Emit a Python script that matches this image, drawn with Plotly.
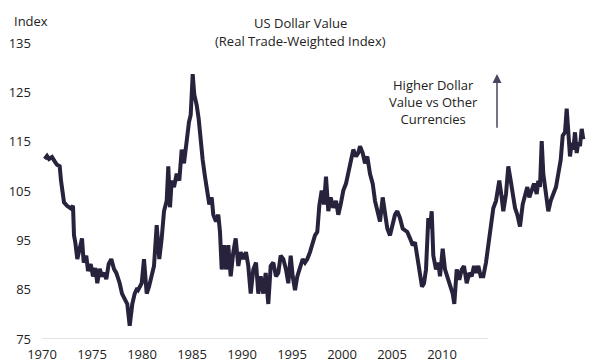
import plotly.graph_objects as go

# ---- data ----
years = [
    1970.27, 1970.5, 1970.7, 1971.0, 1971.27, 1971.5, 1971.77, 1971.9, 1972.2, 1972.5,
    1972.87, 1973.1, 1973.2, 1973.33, 1973.53, 1973.77, 1974.0, 1974.17, 1974.43, 1974.6,
    1974.87, 1975.1, 1975.33, 1975.53, 1975.77, 1976.0, 1976.27, 1976.43, 1976.67, 1976.93,
    1977.2, 1977.43, 1977.77, 1978.0, 1978.27, 1978.53, 1978.77, 1979.03, 1979.27, 1979.53,
    1979.63, 1979.97, 1980.2, 1980.47, 1980.7, 1980.97, 1981.2, 1981.47, 1981.73, 1981.97,
    1982.2, 1982.47, 1982.63, 1982.8, 1982.97, 1983.2, 1983.47, 1983.73, 1983.97, 1984.2,
    1984.47, 1984.7, 1984.87, 1985.07, 1985.23, 1985.47, 1985.67, 1985.87, 1986.07, 1986.3,
    1986.53, 1986.73, 1986.97, 1987.13, 1987.4, 1987.63, 1987.8, 1987.97, 1988.2, 1988.4,
    1988.63, 1988.87, 1989.13, 1989.37, 1989.63, 1989.87, 1990.13, 1990.4, 1990.63, 1990.87,
    1991.13, 1991.4, 1991.63, 1991.87, 1992.13, 1992.37, 1992.63, 1992.87, 1993.13, 1993.4,
    1993.63, 1993.87, 1994.13, 1994.4, 1994.63, 1994.87, 1995.07, 1995.3, 1995.53, 1995.8,
    1996.07, 1996.3, 1996.53, 1996.8, 1997.07, 1997.3, 1997.53, 1997.73, 1997.97, 1998.2,
    1998.4, 1998.63, 1998.87, 1999.13, 1999.4, 1999.63, 1999.87, 2000.13, 2000.4, 2000.63,
    2000.87, 2001.13, 2001.4, 2001.63, 2001.8, 2002.07, 2002.3, 2002.53, 2002.8, 2003.07,
    2003.3, 2003.53, 2003.8, 2004.07, 2004.3, 2004.53, 2004.8, 2005.07, 2005.3, 2005.53,
    2005.8, 2006.07, 2006.3, 2006.53, 2006.8, 2007.07, 2007.3, 2007.53, 2007.8, 2008.0,
    2008.2, 2008.4, 2008.63, 2008.8, 2008.97, 2009.13, 2009.4, 2009.63, 2009.8, 2010.07,
    2010.3, 2010.53, 2010.8, 2011.07, 2011.23, 2011.47, 2011.73, 2011.97, 2012.2, 2012.47,
    2012.73, 2012.97, 2013.2, 2013.4, 2013.63, 2013.87, 2014.13, 2014.4, 2014.63, 2014.87,
    2015.13, 2015.4, 2015.63, 2015.73, 2015.97, 2016.13, 2016.4, 2016.63, 2016.87, 2017.07,
    2017.3, 2017.53, 2017.8, 2018.07, 2018.3, 2018.53, 2018.73, 2018.97, 2019.2, 2019.47,
    2019.63, 2019.8, 2019.97, 2020.13, 2020.37, 2020.63, 2020.87, 2021.13, 2021.4, 2021.63,
    2021.87, 2022.07, 2022.3, 2022.47, 2022.63, 2022.8, 2022.97, 2023.13, 2023.3, 2023.47,
    2023.63, 2023.8, 2023.97, 2024.13,
]
index_values = [
    111.5, 112.1, 111.5, 111.9, 111.0, 110.3, 110.0, 107.1, 102.7, 102.0,
    101.5, 102.0, 96.0, 94.6, 91.2, 93.3, 95.4, 90.5, 91.9, 88.8,
    90.2, 87.7, 89.4, 86.3, 89.2, 87.7, 88.4, 87.1, 90.2, 91.2,
    89.2, 88.4, 86.3, 84.2, 82.9, 82.1, 77.7, 82.1, 84.2, 85.3,
    85.0, 86.3, 91.2, 84.2, 85.6, 87.7, 89.8, 98.1, 91.2, 95.4,
    100.9, 103.0, 110.0, 101.7, 107.1, 105.8, 108.5, 107.1, 113.4, 110.6,
    115.5, 119.0, 120.4, 128.7, 124.5, 122.4, 119.6, 114.8, 111.3, 107.9,
    104.4, 102.3, 103.7, 100.2, 98.8, 100.2, 96.7, 89.1, 94.0, 89.1,
    94.0, 87.7, 92.6, 95.4, 89.8, 92.6, 91.2, 92.6, 89.8, 84.2,
    89.1, 90.5, 84.2, 87.7, 84.2, 88.4, 82.1, 89.8, 90.5, 87.7,
    88.4, 91.9, 91.2, 89.1, 86.3, 91.9, 87.7, 84.9, 87.7, 89.8,
    91.2, 90.5, 91.2, 92.6, 94.6, 96.0, 96.7, 102.0, 105.1, 102.3,
    107.9, 100.9, 103.7, 101.6, 103.0, 100.2, 102.3, 105.1, 106.5, 108.5,
    110.6, 113.4, 112.0, 112.7, 114.1, 112.7, 110.6, 112.0, 108.5, 106.5,
    103.0, 100.9, 98.8, 103.7, 100.2, 97.4, 96.0, 98.8, 100.2, 100.9,
    99.5, 97.4, 97.0, 96.7, 95.4, 94.0, 94.6, 91.9, 89.1, 85.6,
    86.3, 89.1, 99.5, 97.4, 100.9, 91.9, 89.1, 90.5, 87.7, 93.3,
    89.1, 87.7, 85.6, 84.2, 82.1, 89.1, 87.0, 89.1, 89.8, 86.3,
    88.4, 87.7, 89.8, 88.4, 89.8, 87.7, 87.7, 90.5, 94.0, 98.0,
    101.5, 103.0, 105.8, 107.1, 103.7, 100.9, 104.4, 110.0, 107.1, 104.4,
    101.6, 100.2, 97.8, 102.3, 104.4, 105.8, 103.7, 105.1, 106.5, 104.4,
    107.1, 105.8, 115.1, 108.5, 105.1, 100.9, 103.0, 104.4, 105.8, 108.5,
    111.3, 116.2, 116.9, 121.7, 115.5, 112.0, 114.8, 113.4, 116.9, 112.7,
    114.8, 114.1, 117.6, 115.5,
]
x_tick_vals = [1970, 1975, 1980, 1985, 1990, 1995, 2000, 2005, 2010]
x_tick_text = ["1970", "1975", "1980", "1985", "1990", "1995", "2000", "2005", "2010"]
y_tick_vals = [75, 85, 95, 105, 115, 125, 135]
title_lines = ["US Dollar Value", "(Real Trade-Weighted Index)"]
note_lines = ["Higher Dollar", "Value vs Other", "Currencies"]

FONT = "Open Sans"
LINE = "#28223d"
TXT = "#222222"

# the page has an 8px body margin, so the figure is drawn 8px smaller and
# all pixel offsets below are relative to that
W, H = 592, 355
ML, MT, MB = 34, 35, 24
PW = W - ML

fig = go.Figure()
fig.add_trace(go.Scatter(
    x=years, y=index_values, mode="lines",
    line=dict(color=LINE, width=4),
    hoverinfo="skip", showlegend=False,
))

fig.update_layout(
    width=W, height=H,
    margin=dict(l=ML, r=0, t=MT, b=MB, autoexpand=False),
    paper_bgcolor="white", plot_bgcolor="white",
    font=dict(family=FONT, size=13, color=TXT),
    xaxis=dict(
        range=[1970, 2025.8], tickvals=x_tick_vals, ticktext=x_tick_text,
        showgrid=False, zeroline=False, showline=False, ticks="",
        ticklabelstandoff=6, tickfont=dict(size=13, color=TXT),
    ),
    yaxis=dict(
        range=[75, 135], tickvals=y_tick_vals,
        showgrid=False, zeroline=False, showline=False, ticks="",
        ticklabelstandoff=10, tickfont=dict(size=13, color=TXT),
    ),
)

# bottom axis line (only drawn under the labelled part)
fig.add_shape(type="line", xref="x", yref="y", x0=1970, x1=2014.6, y0=75, y1=75,
              line=dict(color="#e3e3e3", width=2), layer="below")

fig.add_annotation(text=title_lines[0], xref="paper", yref="paper",
                   x=(292 - ML) / PW, y=1, yshift=20, showarrow=False,
                   xanchor="center", yanchor="middle", font=dict(size=13, color=TXT))
fig.add_annotation(text=title_lines[1], xref="paper", yref="paper",
                   x=(292 - ML) / PW, y=1, yshift=2, showarrow=False,
                   xanchor="center", yanchor="middle", font=dict(size=13, color=TXT))
fig.add_annotation(text="Index", xref="paper", yref="paper",
                   x=(4 - ML) / PW, y=1, yshift=MT - 13, showarrow=False,
                   xanchor="left", yanchor="middle", font=dict(size=13, color=TXT))
fig.add_annotation(text="<br>".join(note_lines), xref="x", yref="y",
                   x=2009.1, y=123.0, showarrow=False,
                   xanchor="center", yanchor="middle", align="center",
                   font=dict(size=13, color=TXT))
fig.add_annotation(x=2015.5, y=128.7, ax=2015.5, ay=117.5,
                   xref="x", yref="y", axref="x", ayref="y",
                   text="", showarrow=True, arrowhead=2, arrowsize=1.2,
                   arrowwidth=1.5, arrowcolor="#4a4560")

fig.write_html("out.html")
